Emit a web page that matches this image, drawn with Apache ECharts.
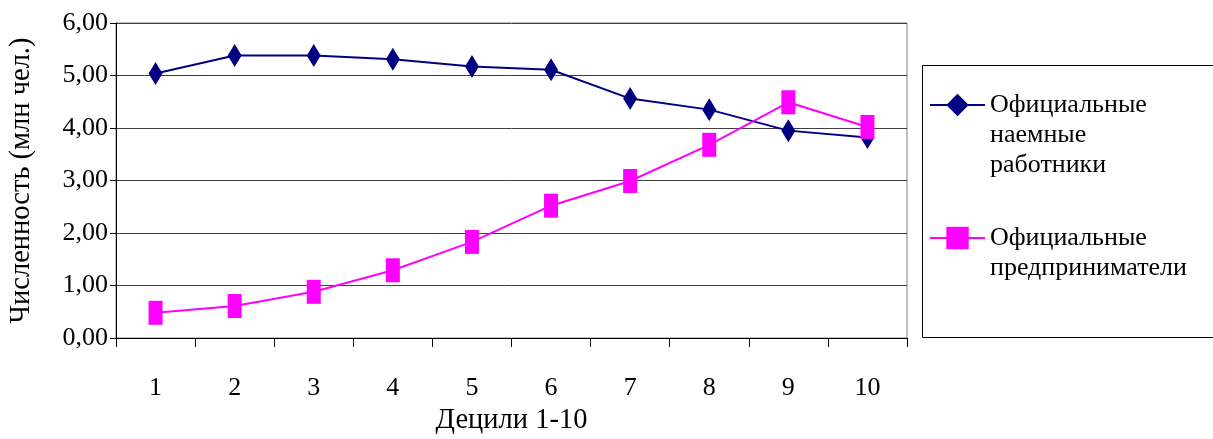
<!DOCTYPE html>
<html>
<head>
<meta charset="utf-8">
<script src="https://cdn.jsdelivr.net/npm/echarts@6/dist/echarts.min.js"></script>
<style>
  html, body { margin: 0; padding: 0; background: #fff; }
  #chart { width: 1213px; height: 439px; }
</style>
</head>
<body>
<div id="chart"></div>
<script>
var deciles = ['1', '2', '3', '4', '5', '6', '7', '8', '9', '10'];
var hired = [5.04, 5.38, 5.38, 5.31, 5.17, 5.11, 4.56, 4.35, 3.95, 3.82];
var entrepreneurs = [0.48, 0.61, 0.88, 1.29, 1.83, 2.52, 2.99, 3.68, 4.49, 4.02];
var yTicks = { min: 0, max: 6, interval: 1 };

var nameHired = 'Официальные наемные работники';
var nameEntr = 'Официальные предприниматели';
// legend text, blank lines on top so the icon sits on the first line
var legendText = {};
legendText[nameHired] = '\n\nОфициальные\nнаемные\nработники';
legendText[nameEntr] = '\nОфициальные\nпредприниматели';

var font = 'Liberation Serif, Times New Roman, serif';
var chart = echarts.init(document.getElementById('chart'));

chart.setOption({
    animation: false,
    backgroundColor: '#fff',
    textStyle: { fontFamily: font },
    grid: {
        left: 116, right: 306, top: 23, bottom: 101,
        outerBoundsMode: 'none',
        containLabel: false,
        show: true, borderColor: '#808080', borderWidth: 1
    },
    legend: {
        orient: 'vertical',
        left: 924,
        top: 25,
        itemWidth: 55,
        itemHeight: 28,
        itemGap: 13,
        formatter: function (n) { return legendText[n]; },
        textStyle: { fontFamily: font, fontSize: 26, color: '#000', lineHeight: 30 },
        data: [nameHired, nameEntr]
    },
    graphic: [{
        type: 'rect',
        shape: { x: 922.5, y: 65.5, width: 300, height: 272 },
        style: { fill: 'none', stroke: '#000', lineWidth: 1 },
        silent: true
    }],
    xAxis: {
        type: 'category',
        data: deciles,
        boundaryGap: true,
        name: 'Децили 1-10',
        nameLocation: 'middle',
        nameGap: 68,
        nameTextStyle: { fontFamily: font, fontSize: 28.5, color: '#000' },
        axisLine: { lineStyle: { color: '#000', width: 1 } },
        axisTick: { show: true, length: 9, lineStyle: { color: '#000' } },
        axisLabel: { color: '#000', fontSize: 26, fontFamily: font, margin: 37 },
        splitLine: { show: false }
    },
    yAxis: {
        type: 'value',
        min: yTicks.min,
        max: yTicks.max,
        interval: yTicks.interval,
        name: 'Численность (млн чел.)',
        nameLocation: 'middle',
        nameGap: 80,
        nameRotate: 90,
        nameTextStyle: { fontFamily: font, fontSize: 28.5, color: '#000' },
        axisLine: { show: true, lineStyle: { color: '#000', width: 1 } },
        axisTick: { show: true, length: 6, lineStyle: { color: '#000' } },
        axisLabel: {
            color: '#000', fontSize: 26, fontFamily: font, margin: 8,
            formatter: function (v) { return v.toFixed(2).replace('.', ','); }
        },
        splitLine: { show: true, lineStyle: { color: '#404040', width: 1 } }
    },
    series: [
        {
            name: nameHired,
            type: 'line',
            data: hired,
            symbol: 'diamond',
            symbolSize: [14, 23],
            color: '#000080',
            lineStyle: { color: '#000080', width: 2 },
            itemStyle: { color: '#000080' }
        },
        {
            name: nameEntr,
            type: 'line',
            data: entrepreneurs,
            symbol: 'rect',
            symbolSize: [14, 24],
            color: '#ff00ff',
            lineStyle: { color: '#ff00ff', width: 2 },
            itemStyle: { color: '#ff00ff' }
        }
    ]
});
</script>
</body>
</html>
